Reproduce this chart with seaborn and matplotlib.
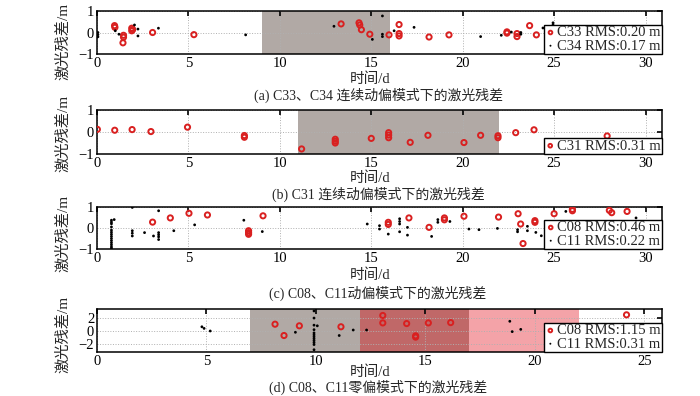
import matplotlib
matplotlib.use("Agg")
import matplotlib.pyplot as plt
import seaborn as sns

# ---- data ----
# (a) C33 / C34
a_c33_x = [0.96, 0.98, 1.45, 1.45, 1.42, 1.9, 1.9, 1.95, 3.04, 5.3, 13.35, 14.33, 14.37, 14.46, 14.92,
           15.97, 16.52, 16.52, 16.52, 18.16, 19.25, 22.42, 22.42, 22.97, 22.97, 23.66, 24.03, 25.12]
a_c33_y = [0.32, 0.24, -0.13, -0.22, -0.48, 0.2, 0.08, 0.14, 0.0, -0.1, 0.4, 0.45, 0.35, 0.13, -0.08,
           -0.11, 0.37, -0.05, -0.16, -0.21, -0.11, 0.03, -0.03, -0.05, -0.19, 0.32, -0.11, -0.27]
a_c34_x = [0.05, 0.05, 0.05, 1.0, 1.2, 2.05, 2.24, 2.24, 3.36, 8.13, 12.96, 15.06, 15.61, 15.61, 15.61,
           16.25, 17.34, 20.98, 22.11, 22.66, 23.18, 23.18, 24.39, 24.94, 24.94, 24.94, 24.94]
a_c34_y = [0.0, -0.1, -0.2, 0.08, -0.08, 0.35, 0.16, -0.16, 0.2, -0.11, 0.29, -0.32, 0.77, -0.08, -0.19,
           0.08, 0.24, -0.19, -0.13, 0.02, 0.0, -0.08, 0.21, 0.45, 0.35, 0.25, 0.12]

# (b) C31
b_c31_x = [0.02, 0.97, 1.92, 2.95, 4.95, 8.06, 8.06, 11.19, 13.03, 13.03, 13.03, 15.0, 15.95, 15.95, 15.95,
           17.13, 18.1, 20.07, 20.98, 21.93, 21.93, 22.9, 23.9, 25.0, 27.9]
b_c31_y = [0.12, 0.08, 0.11, 0.02, 0.22, -0.16, -0.24, -0.77, -0.33, -0.42, -0.5, -0.29, -0.03, -0.14, -0.26,
           -0.47, -0.15, -0.48, -0.15, -0.17, -0.26, -0.03, 0.1, -0.85, -0.18]

# (c) C08 / C11 (yaw-steering)
c_c08_x = [3.04, 4.01, 5.03, 6.04, 8.29, 8.29, 8.29, 9.08, 15.93, 15.93, 17.06, 18.16, 19.0, 19.0, 20.07,
           21.96, 23.03, 23.17, 23.3, 23.95, 23.95, 25.0, 26.0, 26.0, 28.02, 28.15, 28.99]
c_c08_y = [0.28, 0.48, 0.7, 0.62, -0.13, -0.22, -0.3, 0.58, 0.27, 0.17, 0.48, 0.03, 0.48, 0.39, 0.56,
           0.52, 0.68, 0.19, -0.74, 0.35, 0.27, 0.68, 0.89, 0.82, 0.84, 0.73, 0.79]
c_c11_x = [0.79] * 14 + [0.94, 1.93, 1.93, 1.93, 1.93, 2.6, 3.09, 3.37, 3.37, 3.37, 3.37, 3.37, 4.2, 5.34,
           8.03, 9.04, 14.78, 15.45, 15.45, 15.93, 16.55, 16.55, 16.55, 16.55, 16.98, 16.98, 18.3, 18.64,
           18.64, 19.3, 20.34, 20.89, 21.9, 23.0, 23.0, 23.54, 23.54, 24.0, 24.3, 24.64, 25.64, 28.93, 29.48]
c_c11_y = [0.37, 0.28, 0.2, 0.05, -0.1, -0.2, -0.3, -0.4, -0.5, -0.6, -0.7, -0.8, -0.9, -0.97] + \
          [0.4, 0.98, -0.13, -0.25, -0.38, -0.22, -0.38, 0.82, -0.22, -0.32, -0.42, -0.55, -0.13, 0.15,
           0.37, -0.17, 0.19, 0.11, -0.05, -0.29, 0.44, 0.31, 0.19, -0.18, 0.03, -0.34, -0.4, 0.4,
           0.27, 0.31, -0.05, -0.08, -0.02, -0.18, -0.08, 0.08, -0.13, -0.21, -0.37, -0.34, 0.79, 0.31, 0.48]

# (d) C08 / C11 (zero-yaw)
d_c08_x = [8.13, 8.54, 9.24, 11.14, 13.05, 13.05, 14.14, 14.55, 14.55, 15.13, 16.15, 24.18]
d_c08_y = [1.05, -0.7, 0.8, 0.65, 2.4, 1.25, 1.15, -0.75, -0.95, 1.25, 1.3, 2.5]
d_c11_x = [4.79, 4.89, 5.17, 9.06] + [9.91] * 12 + [10.06, 11.06, 11.7, 12.31, 18.85, 18.96, 19.35]
d_c11_y = [0.65, 0.4, 0.0, -0.2] + [3.1, 2.0, 0.9, 0.2, -0.3, -0.6, -0.9, -1.2, -1.5, -1.8, -2.1, -2.9] + \
          [0.8, -0.7, 0.15, 0.15, 1.5, -0.1, 0.25]

# shaded periods (start, end, colour)
a_spans = [(9, 16, '#b1a9a5')]
b_spans = [(11, 22, '#b1a9a5')]
c_spans = []
d_spans = [(7, 12, '#b1a9a5'), (12, 17, '#c06868'), (17, 22, '#f4a3a8')]

labels_a = ['C33 RMS:0.20 m', 'C34 RMS:0.17 m']
labels_b = ['C31 RMS:0.31 m']
labels_c = ['C08 RMS:0.46 m', 'C11 RMS:0.22 m']
labels_d = ['C08 RMS:1.15 m', 'C11 RMS:0.31 m']
captions = ['(a) C33、C34 连续动偏模式下的激光残差',
            '(b) C31 连续动偏模式下的激光残差',
            '(c) C08、C11动偏模式下的激光残差',
            '(d) C08、C11零偏模式下的激光残差']

RED = '#d92020'

sns.set_style('white')
plt.rcParams['font.family'] = ['Liberation Serif', 'Noto Sans CJK SC']
plt.rcParams['axes.unicode_minus'] = True

W, H = 700, 396
fig = plt.figure(figsize=(7, 3.96), dpi=100)


def px_axes(top, bottom, left=97, right=662):
    return fig.add_axes([left / W, 1 - bottom / H, (right - left) / W, (bottom - top) / H])


def setup(ax, xmax, ylim, yticks, xticks, spans):
    for s0, s1, col in spans:
        ax.axvspan(s0, s1, color=col, lw=0, zorder=0)
    ax.set_xlim(0, xmax)
    ax.set_ylim(*ylim)
    ax.set_xticks(xticks)
    ax.set_yticks(yticks)
    ax.grid(True, ls=':', color='#b0b0b0', lw=0.7, zorder=0.5)
    ax.set_axisbelow(True)
    ax.tick_params(direction='in', length=3.5, width=1.2, top=True, right=True,
                   labelsize=10.5, pad=2, colors='black')
    for sp in ax.spines.values():
        sp.set_color('black')
        sp.set_linewidth(1.1)
    ax.set_xlabel('')
    ax.set_ylabel('')


def red_pts(ax, x, y, lab):
    sns.scatterplot(x=x, y=y, ax=ax, marker='o', s=14, facecolor='none',
                    edgecolor=RED, linewidth=1.4, label=lab, zorder=3)


def blk_pts(ax, x, y, lab):
    sns.scatterplot(x=x, y=y, ax=ax, marker='o', s=4, color='black',
                    edgecolor='none', linewidth=0, label=lab, zorder=3)


def legend(ax):
    leg = ax.legend(loc='lower right', fontsize=10.5, frameon=True, fancybox=False,
                    edgecolor='black', framealpha=1, borderaxespad=0, borderpad=0.1,
                    handletextpad=0.1, handlelength=0.7, labelspacing=0.0, markerscale=0.7)
    leg.get_frame().set_linewidth(1.0)
    leg.set_zorder(5)


panels = [(11, 54), (110, 154), (207, 249), (309, 352)]
yl_y = [41, 133, 233, 334]
xl_y = [79, 178, 275, 372]
cap_y = [95, 194, 293, 387]

ax = px_axes(*panels[0])
red_pts(ax, a_c33_x, a_c33_y, labels_a[0])
blk_pts(ax, a_c34_x, a_c34_y, labels_a[1])
setup(ax, 30.9, (-1, 1), [-1, 0, 1], range(0, 31, 5), a_spans)
legend(ax)

ax = px_axes(*panels[1])
red_pts(ax, b_c31_x, b_c31_y, labels_b[0])
setup(ax, 30.9, (-1, 1), [-1, 0, 1], range(0, 31, 5), b_spans)
legend(ax)

ax = px_axes(*panels[2])
red_pts(ax, c_c08_x, c_c08_y, labels_c[0])
blk_pts(ax, c_c11_x, c_c11_y, labels_c[1])
setup(ax, 30.9, (-1, 1), [-1, 0, 1], range(0, 31, 5), c_spans)
legend(ax)

ax = px_axes(*panels[3])
red_pts(ax, d_c08_x, d_c08_y, labels_d[0])
blk_pts(ax, d_c11_x, d_c11_y, labels_d[1])
setup(ax, 25.8, (-3.25, 3.4), [-2, 0, 2], range(0, 26, 5), d_spans)
legend(ax)

for ly, xy, cy, cap in zip(yl_y, xl_y, cap_y, captions):
    fig.text(63 / W, 1 - ly / H, '激光残差/m', rotation=90,
             ha='center', va='center', fontsize=11)
    fig.text(370 / W, 1 - xy / H, '时间/d', ha='center', va='center', fontsize=10.5)
    fig.text(378 / W, 1 - cy / H, cap, ha='center', va='center', fontsize=10)

fig.savefig('out.png', dpi=100)
